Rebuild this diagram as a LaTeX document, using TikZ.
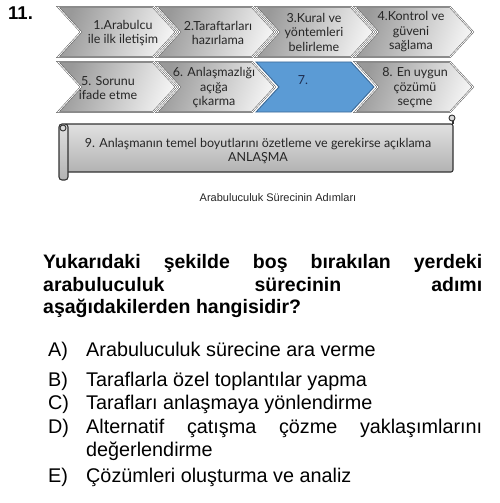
\documentclass[tikz,border=0pt]{standalone}
\usepackage{fontspec}
\setmainfont{Liberation Sans}
\newfontfamily\gill{Lato}
\definecolor{chevblue}{RGB}{91,155,213}
\definecolor{chevbluedark}{RGB}{60,105,150}
\definecolor{navy}{RGB}{30,45,80}
\begin{document}
\begin{tikzpicture}[x=1pt,y=-1pt]
\tikzset{
  chev/.style={left color=black!40, right color=black!5, shading angle=70, draw=black!70, double=white, double distance=0.8pt, line width=0.45pt},
  chevb/.style={fill=chevblue, draw=chevbluedark, line width=0.9pt},
  lab/.style={font=\gill\fontsize{12.5}{14.5}\selectfont, align=center, text=black!85, inner sep=0},
  qtext/.style={font=\bfseries\fontsize{19.5}{22}\selectfont, anchor=base west, inner sep=0},
  otext/.style={font=\fontsize{19.8}{22}\selectfont, anchor=base west, inner sep=0},
  scrollfill/.style={top color=black!12, bottom color=black!30, draw=black!80, line width=1.1pt},
}
\newcommand\chevshape[4]{%
  \path[#4] (#1,#2) -- (#1+95,#2) -- (#1+118,{(#2+#3)/2}) -- (#1+95,#3) -- (#1,#3) -- (#1+23,{(#2+#3)/2}) -- cycle;}
\useasboundingbox (0,0) rectangle (500,503);
\fill[white] (0,0) rectangle (500,503);
% title number
\node[font=\bfseries\fontsize{18.5}{20}\selectfont, anchor=base west, inner sep=0] (num) at (8,20) {11.};
% row 1
\chevshape{58}{7}{57}{chev}
\chevshape{157}{7}{57}{chev}
\chevshape{256}{7}{57}{chev}
\chevshape{355}{7}{57}{chev}
% row 2
\chevshape{58}{62}{112}{chev}
\chevshape{157}{62}{112}{chev}
\chevshape{256}{62}{112}{chevb}
\chevshape{355}{62}{112}{chev}
% labels
\node[lab] (s1) at (123,33) {1.Arabulcu\\ile ilk iletişim};
\node[lab] (s2) at (218,33) {2.Taraftarları\\hazırlama};
\node[lab] (s3) at (314,32) {3.Kural ve\\yöntemleri\\belirleme};
\node[lab] (s4) at (411,32) {4.Kontrol ve\\güveni\\sağlama};
\node[lab] (s5) at (108,88) {5. Sorunu\\ifade etme};
\node[lab] (s6) at (214,88) {6. Anlaşmazlığı\\açığa\\çıkarma};
\node[lab, text=navy] (s7) at (303,80) {7.};
\node[lab] (s8) at (415,88) {8. En uygun\\çözümü\\seçme};
% scroll
\path[scrollfill, rounded corners=2pt] (64,124) -- (453,124) -- (453,172) -- (64,172) -- cycle;
\path[scrollfill, rounded corners=3pt] (59,124) rectangle (68,180);
\draw[black!80, line width=0.9pt, fill=black!15] (63,128) circle (3);
\draw[black!80, line width=1.1pt] (453,124) -- (453,118);
\draw[black!80, line width=0.9pt, fill=black!15] (452,118) circle (3);
\node[lab, font=\gill\fontsize{12.5}{14.5}\selectfont] (s9) at (258,151) {9. Anlaşmanın temel boyutlarını özetleme ve gerekirse açıklama\\ANLAŞMA};
% caption
\node[font=\fontsize{11}{12}\selectfont, inner sep=0, text=black!85] (cap) at (278,198) {Arabuluculuk Sürecinin Adımları};
% question
\node[qtext] (q1) at (43,268) {\makebox[439pt][s]{Yukarıdaki şekilde boş bırakılan yerdeki}};
\node[qtext] (q2) at (43,291) {\makebox[439pt][s]{arabuluculuk sürecinin adımı}};
\node[qtext] (q3) at (43,313) {aşağıdakilerden hangisidir?};
% options
\node[otext] (la) at (48,356) {A)};
\node[otext] (oa) at (86,356) {Arabuluculuk sürecine ara verme};
\node[otext] (lb) at (48,386) {B)};
\node[otext] (ob) at (86,386) {Taraflarla özel toplantılar yapma};
\node[otext] (lc) at (48,409) {C)};
\node[otext] (oc) at (86,409) {Tarafları anlaşmaya yönlendirme};
\node[otext] (ld) at (48,433) {D)};
\node[otext] (od) at (86,433) {\makebox[396pt][s]{Alternatif çatışma çözme yaklaşımlarını}};
\node[otext] (od2) at (86,456) {değerlendirme};
\node[otext] (le) at (48,482) {E)};
\node[otext] (oe) at (86,482) {Çözümleri oluşturma ve analiz};
\end{tikzpicture}
\end{document}
